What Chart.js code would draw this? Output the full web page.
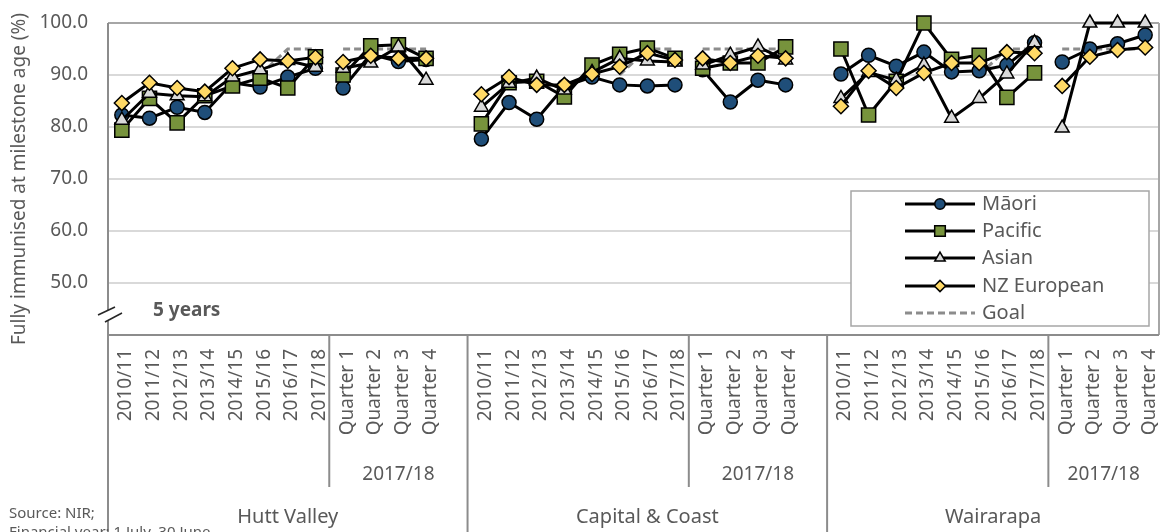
<!DOCTYPE html>
<html>
<head>
<meta charset="utf-8">
<title>Fully immunised at milestone age</title>
<script src="https://cdn.jsdelivr.net/npm/chart.js@4.4.1/dist/chart.umd.min.js"></script>
<style>
  html, body { margin: 0; padding: 0; background: #fff; }
  #wrap { width: 1163px; height: 532px; }
</style>
</head>
<body>
<div id="wrap"><canvas id="chart" width="1163" height="532"></canvas></div>
<script>
const districts = ['Hutt Valley', 'Capital & Coast', 'Wairarapa'];
const periods = ['2010/11', '2011/12', '2012/13', '2013/14', '2014/15', '2015/16', '2016/17', '2017/18',
  'Quarter 1', 'Quarter 2', 'Quarter 3', 'Quarter 4'];
const quarterYear = '2017/18';
const yTicks = [50, 60, 70, 80, 90, 100];

// 12 values per district: eight financial years then the four quarters of 2017/18
const maori = [
  82.3, 81.7, 83.8, 82.8, 88.5, 87.7, 89.6, 91.3, 87.5, 94.0, 92.6, 93.0,
  77.7, 84.7, 81.5, 87.8, 89.6, 88.1, 87.9, 88.1, 91.0, 84.8, 89.0, 88.1,
  90.2, 93.8, 91.7, 94.4, 90.6, 90.8, 91.9, 96.2, 92.5, 95.0, 96.0, 97.7
];
const pacific = [
  79.4, 85.5, 80.8, 86.0, 87.9, 89.4, 87.5, 93.5, 90.0, 95.6, 95.8, 93.2,
  80.6, 88.5, 88.8, 85.8, 91.9, 94.0, 95.2, 93.2, 91.3, 92.3, 92.3, 95.4,
  95.0, 82.3, 88.8, 100.0, 93.0, 93.8, 85.7, 90.4, null, null, null, null
];
const asian = [
  81.3, 86.5, 86.0, 85.8, 89.6, 91.0, 92.8, 91.5, 91.3, 92.3, 95.4, 89.0,
  83.8, 88.4, 89.4, 87.1, 90.5, 93.2, 92.7, 92.5, 91.9, 93.8, 95.4, 92.9,
  85.5, 90.5, 89.0, 91.9, 81.7, 85.5, 90.2, 96.2, 79.8, 100.0, 100.0, 100.0
];
const nzEuropean = [
  84.6, 88.5, 87.5, 86.8, 91.3, 93.0, 92.7, 93.4, 92.5, 93.7, 93.2, 93.2,
  86.3, 89.6, 88.1, 88.1, 90.2, 91.6, 94.2, 92.9, 93.2, 92.3, 93.7, 93.2,
  84.0, 90.8, 87.5, 90.4, 92.3, 92.3, 94.4, 94.2, 87.9, 93.5, 94.8, 95.3
];
const goal = [
  null, null, null, null, null, 90, 95, 95, 95, 95, 95, 95,
  null, null, null, null, null, 90, 95, 95, 95, 95, 95, 95,
  null, null, null, null, null, 90, 95, 95, 95, 95, 95, 95
];

const FONT = '"Noto Sans", "DejaVu Sans", sans-serif';
const TEXT = '#595959';
const PER_GROUP = periods.length;

// leave one empty slot between districts
function spread(values, blank) {
  const out = [];
  districts.forEach((d, g) => {
    out.push(...values.slice(g * PER_GROUP, (g + 1) * PER_GROUP));
    if (g < districts.length - 1) out.push(blank);
  });
  return out;
}

const labels = spread(districts.flatMap(() => periods), '');
// no line between the last financial year and Quarter 1
const breakAfter = districts.map((d, g) => g * (PER_GROUP + 1) + 7);
const segment = {
  borderColor: c => breakAfter.includes(c.p0DataIndex) ? 'rgba(0,0,0,0)' : undefined
};

const series = [
  { label: 'Māori', data: maori, pointStyle: 'circle', radius: 7, fill: '#1f4e79', order: 4 },
  { label: 'Pacific', data: pacific, pointStyle: 'rect', radius: 10, fill: '#77933c', order: 3 },
  { label: 'Asian', data: asian, pointStyle: 'triangle', radius: 8, fill: '#d9d9d9', order: 2 },
  { label: 'NZ European', data: nzEuropean, pointStyle: 'rectRot', radius: 7.5, fill: '#ffd966', order: 1 }
];

const datasets = series.map(s => ({
  label: s.label,
  data: spread(s.data, null),
  borderColor: '#000',
  borderWidth: 3,
  pointStyle: s.pointStyle,
  pointRadius: s.radius,
  pointHoverRadius: s.radius,
  pointBackgroundColor: s.fill,
  pointBorderColor: '#000',
  pointBorderWidth: 1.5,
  tension: 0,
  spanGaps: false,
  clip: false,
  order: s.order,
  segment
}));
datasets.push({
  label: 'Goal',
  data: spread(goal, null),
  borderColor: '#8c8c8c',
  borderWidth: 3,
  borderDash: [7, 4],
  pointRadius: 0,
  tension: 0,
  spanGaps: false,
  order: 5,
  segment
});

function strokeLine(ctx, x1, y1, x2, y2) {
  ctx.beginPath();
  ctx.moveTo(x1, y1);
  ctx.lineTo(x2, y2);
  ctx.stroke();
}

// three-level category axis, frame, break marks, legend and notes
const decorations = {
  id: 'decorations',
  afterDraw(chart) {
    const { ctx, chartArea: area } = chart;
    const x = chart.scales.x;
    const step = x.getPixelForValue(1) - x.getPixelForValue(0);
    const edge = i => x.getPixelForValue(i) - step / 2;
    const bottom = chart.height;

    ctx.save();
    ctx.lineWidth = 2;
    ctx.strokeStyle = '#a6a6a6';
    strokeLine(ctx, area.right, area.top, area.right, area.bottom);
    ctx.strokeStyle = '#8c8c8c';
    strokeLine(ctx, area.left, area.bottom, area.right, area.bottom);
    strokeLine(ctx, area.left, area.top, area.left, bottom);

    ctx.fillStyle = TEXT;
    ctx.font = `19px ${FONT}`;
    labels.forEach((lab, i) => {
      if (!lab) return;
      ctx.save();
      ctx.translate(x.getPixelForValue(i) + 9.5, area.bottom + 14);
      ctx.rotate(-Math.PI / 2);
      ctx.textAlign = 'right';
      ctx.textBaseline = 'alphabetic';
      ctx.fillText(lab, 0, 0);
      ctx.restore();
    });

    districts.forEach((name, g) => {
      const first = g * (PER_GROUP + 1);
      const left = edge(first);
      const right = g < districts.length - 1 ? edge(first + PER_GROUP + 1) : area.right;
      const qLeft = edge(first + 8);
      ctx.strokeStyle = '#8c8c8c';
      ctx.lineWidth = 2;
      if (g > 0) strokeLine(ctx, left, area.bottom, left, bottom);
      strokeLine(ctx, qLeft, area.bottom, qLeft, area.bottom + 152);
      ctx.textAlign = 'center';
      ctx.textBaseline = 'alphabetic';
      ctx.font = `19px ${FONT}`;
      ctx.fillText(quarterYear, (qLeft + right) / 2, area.bottom + 145);
      ctx.font = `20px ${FONT}`;
      ctx.fillText(name, (left + right) / 2, area.bottom + 188);
    });

    // axis break
    ctx.fillStyle = '#fff';
    ctx.beginPath();
    ctx.moveTo(98, 315); ctx.lineTo(115, 307); ctx.lineTo(122, 313); ctx.lineTo(105, 322);
    ctx.closePath();
    ctx.fill();
    ctx.strokeStyle = '#262626';
    ctx.lineWidth = 1.5;
    strokeLine(ctx, 98, 315, 115, 307);
    strokeLine(ctx, 105, 322, 122, 313);

    ctx.fillStyle = TEXT;
    ctx.textAlign = 'left';
    ctx.font = `bold 19px ${FONT}`;
    ctx.fillText('5 years', 153, 316);

    ctx.font = `15px ${FONT}`;
    ctx.fillText('Source: NIR;', 9, 518);
    ctx.fillText('Financial year: 1 July–30 June', 9, 537);

    // legend
    const box = { left: 851, top: 191, right: 1149, bottom: 326 };
    ctx.fillStyle = '#fff';
    ctx.fillRect(box.left, box.top, box.right - box.left, box.bottom - box.top);
    ctx.strokeStyle = '#a6a6a6';
    ctx.lineWidth = 1.5;
    ctx.strokeRect(box.left, box.top, box.right - box.left, box.bottom - box.top);
    const rows = [204, 231, 258, 286, 313];
    chart.data.datasets.forEach((ds, i) => {
      const y = rows[i];
      ctx.save();
      ctx.strokeStyle = ds.borderColor;
      ctx.lineWidth = 3;
      ctx.setLineDash(ds.borderDash || []);
      strokeLine(ctx, 905, y, 975, y);
      ctx.restore();
      if (ds.pointRadius) {
        ctx.fillStyle = ds.pointBackgroundColor;
        ctx.strokeStyle = '#000';
        ctx.lineWidth = 1.5;
        Chart.helpers.drawPoint(ctx, {
          pointStyle: ds.pointStyle,
          radius: ds.pointRadius * 0.75,
          rotation: 0,
          borderWidth: 1.5
        }, 940, y);
      }
      ctx.fillStyle = TEXT;
      ctx.font = `20px ${FONT}`;
      ctx.textAlign = 'left';
      ctx.textBaseline = 'middle';
      ctx.fillText(ds.label, 982, y);
    });
    ctx.restore();
  }
};

new Chart(document.getElementById('chart'), {
  type: 'line',
  data: { labels, datasets },
  options: {
    responsive: false,
    animation: false,
    devicePixelRatio: 1,
    layout: { autoPadding: false, padding: { top: 23, right: 4, bottom: 197, left: 0 } },
    plugins: { legend: { display: false }, tooltip: { enabled: false } },
    scales: {
      x: { display: false, offset: true },
      y: {
        min: 40,
        max: 100,
        afterFit: s => {
          s.width = 108;
          s.paddingTop = 0;
          s.paddingBottom = 0;
        },
        afterBuildTicks: s => { s.ticks = [40, ...yTicks].map(v => ({ value: v })); },
        border: { display: false },
        grid: {
          drawTicks: false,
          lineWidth: 2,
          color: c => c.tick.value === 100 ? '#a6a6a6' : c.tick.value === 40 ? 'rgba(0,0,0,0)' : '#d9d9d9'
        },
        ticks: {
          padding: 20,
          color: TEXT,
          font: { family: FONT, size: 19 },
          callback: v => v >= 50 ? v.toFixed(1) : ''
        },
        title: {
          display: true,
          text: 'Fully immunised at milestone age (%)',
          color: TEXT,
          font: { family: FONT, size: 19 },
          padding: { top: 8, bottom: 0 }
        }
      }
    }
  },
  plugins: [decorations]
});
</script>
</body>
</html>
